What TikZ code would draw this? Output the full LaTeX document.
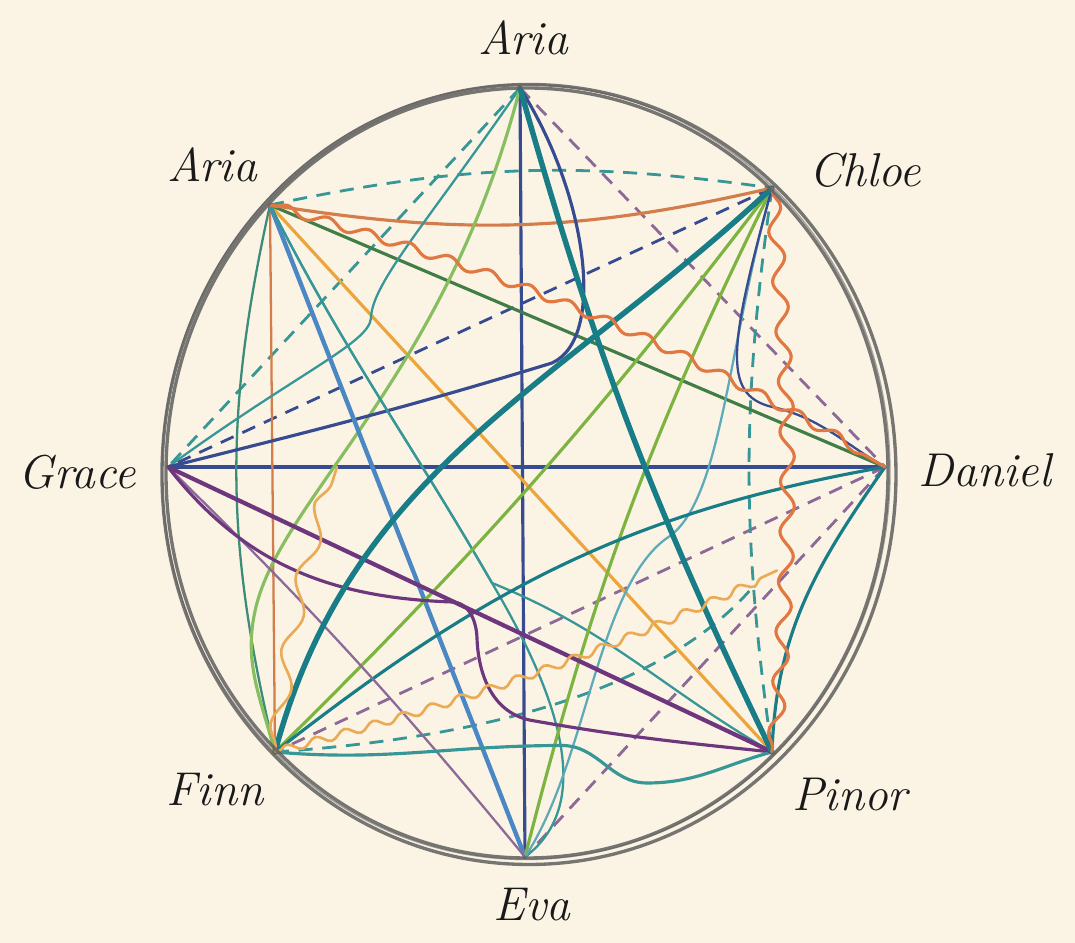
\documentclass[tikz,border=0pt]{standalone}
\usepackage{tikz}
\usetikzlibrary{decorations.pathmorphing}
\definecolor{paper}{RGB}{251,244,229}
\definecolor{pencil}{RGB}{95,95,95}
\definecolor{ink}{RGB}{25,25,25}
\definecolor{tealdeep}{RGB}{25,125,135}
\definecolor{tealmid}{RGB}{55,150,150}
\definecolor{teallight}{RGB}{95,170,185}
\definecolor{navy}{RGB}{55,75,145}
\definecolor{skyblue}{RGB}{75,135,195}
\definecolor{plum}{RGB}{110,55,125}
\definecolor{lilac}{RGB}{140,105,150}
\definecolor{rust}{RGB}{225,120,65}
\definecolor{apricot}{RGB}{235,170,85}
\definecolor{amber}{RGB}{235,165,60}
\definecolor{clay}{RGB}{210,125,75}
\definecolor{leaf}{RGB}{125,180,65}
\definecolor{sage}{RGB}{135,190,95}
\definecolor{pine}{RGB}{65,125,70}
\definecolor{seagreen}{RGB}{60,140,120}
\tikzset{pencilring/.style={pencil,line width=1.9pt,opacity=.85},
 penline/.style={line width=1.8pt,line cap=round},
 thinline/.style={line width=1.3pt,line cap=round},
 fatline/.style={line width=3.1pt,line cap=round},
 dashline/.style={line width=1.6pt,dash pattern=on 8pt off 5.5pt},
 wiggle/.style 2 args={decorate,decoration={snake,amplitude=#1,segment length=#2,pre length=2pt,post length=2pt}},
 namelbl/.style={font=\fontsize{27}{30}\selectfont\itshape,text=ink}}

\begin{document}
\begin{tikzpicture}
\fill[paper] (-10.54,-9.4) rectangle (10.96,9.46);
\useasboundingbox (-10.54,-9.4) rectangle (10.96,9.46);
% the eight seats on the ring
\coordinate (aria1) at (-0.14,7.70);
\coordinate (aria2) at (-5.14,5.36);
\coordinate (chloe) at (4.90,5.70);
\coordinate (daniel) at (7.16,0.12);
\coordinate (pinor) at (4.90,-5.58);
\coordinate (eva) at (-0.04,-7.68);
\coordinate (finn) at (-5.04,-5.58);
\coordinate (grace) at (-7.18,0.12);
\coordinate (tealjoin) at (4.50,-2.30);
\coordinate (orangejoin) at (5.00,-1.95);
\coordinate (orangetip) at (-3.80,0.12);
% dashed links
\draw[dashline,tealmid] (aria1) -- (grace);
\draw[dashline,tealmid] (aria2) to[bend left=10] (chloe);
\draw[dashline,lilac] (aria1) -- (daniel);
\draw[dashline,navy] (chloe) -- (grace);
\draw[dashline,lilac] (daniel) -- (finn);
\draw[dashline,lilac] (daniel) -- (eva);
\draw[dashline,tealmid] (chloe) to[bend right=8] (pinor);
\draw[dashline,tealmid] (finn) .. controls (0.5,-5.2) and (3.2,-3.8) .. (tealjoin);
% solid links
\draw[penline,navy] (aria1) -- (eva);
\draw[penline,navy] (grace) -- (daniel);
\draw[thinline,clay] (aria2) -- (finn);
\draw[thinline,seagreen] (aria2) to[bend right=13] (finn);
\draw[penline,amber] (aria2) -- (pinor);
\draw[penline,pine] (aria2) -- (daniel);
\draw[penline,clay] (aria2) to[bend right=11] (chloe);
\draw[thinline,tealmid] (aria1) .. controls (-2.0,5.0) and (-3.1,3.8) .. (-3.12,3.1)
  .. controls (-3.15,2.6) and (-4.6,2.0) .. (grace);
\draw[penline,sage] (aria1) .. controls (-1.6,2.0) and (-4.8,-0.4) .. (-5.4,-2.6)
  to[out=-105,in=105] (finn);
\draw[penline,navy] (aria1) .. controls (1.2,5.6) and (1.6,2.7) .. (0.5,2.2)
  to[out=-163,in=14] (grace);
\draw[fatline,skyblue,line width=2.5pt] (aria2) -- (eva);
\draw[thinline,tealmid] (aria2) to[out=-63,in=120] (-0.7,-2.2)
  .. controls (0.6,-4.4) and (1.4,-6.6) .. (eva);
\draw[thinline,tealmid] (aria2) to[out=-63,in=120] (-0.7,-2.2) to[out=-22,in=150] (pinor);
\draw[penline,leaf] (chloe) to[bend left=4] (finn);
\draw[penline,leaf] (chloe) to[bend right=6] (eva);
\draw[thinline,teallight] (chloe) .. controls (4.0,2.5) and (3.9,-0.6) .. (2.8,-1.3)
  .. controls (1.4,-2.3) and (1.2,-5.8) .. (eva);
\draw[thinline,navy] (chloe) .. controls (4.0,2.4) and (3.9,1.5) .. (5.0,1.3)
  to[out=-15,in=150] (daniel);
\draw[penline,tealdeep] (daniel) to[out=190,in=38] (finn);
\draw[penline,tealdeep] (daniel) to[out=-125,in=88] (pinor);
\draw[thinline,lilac] (grace) to[bend left=3] (eva);
\draw[penline,plum] (grace) to[out=-52,in=178] (-1.5,-2.58) to[out=-2,in=92] (-1.0,-3.3)
  to[out=-88,in=170] (0.1,-4.95) to[out=-10,in=174] (pinor);
\draw[penline,tealmid] (finn) to[out=-5,in=180] (0.7,-5.45) to[out=0,in=180] (2.4,-6.2)
  to[out=0,in=-165] (pinor);
\draw[fatline,plum,line width=2.4pt] (grace) -- (pinor);
\draw[fatline,tealdeep] (aria1) to[bend right=5] (pinor);
\draw[fatline,tealdeep] (chloe) to[out=-137,in=75] (finn);
% wavy links
\draw[penline,rust,wiggle={0.09cm}{0.85cm}] (aria2) to[bend left=7] (daniel);
\draw[penline,rust,wiggle={0.14cm}{1.0cm}] (chloe) to[bend left=5] (pinor);
\draw[penline,apricot,line width=1.5pt,wiggle={0.08cm}{0.6cm}] (finn) to[bend right=5] (orangejoin);
\draw[penline,apricot,line width=1.5pt,wiggle={0.16cm}{1.5cm}] (finn) to[bend left=5] (orangetip);
% pencil ring
\draw[pencilring] (0,0) ellipse (7.22 and 7.70);
\draw[pencilring] (0.04,-0.03) ellipse (7.34 and 7.80);
\draw[pencilring,line width=.8pt,opacity=.55] (-0.02,0.02) ellipse (7.28 and 7.75);
% names
\node[namelbl] (lblaria1) at (-0.08,8.70) {Aria};
\node[namelbl] (lblaria2) at (-6.30,6.16) {Aria};
\node[namelbl] (lblchloe) at (6.76,6.06) {Chloe};
\node[namelbl] (lbldaniel) at (9.16,0.06) {Daniel};
\node[namelbl] (lblgrace) at (-9.00,0.02) {Grace};
\node[namelbl] (lblfinn) at (-6.24,-6.34) {Finn};
\node[namelbl] (lblpinor) at (6.46,-6.44) {Pinor};
\node[namelbl] (lbleva) at (0.10,-8.64) {Eva};
\end{tikzpicture}
\end{document}
